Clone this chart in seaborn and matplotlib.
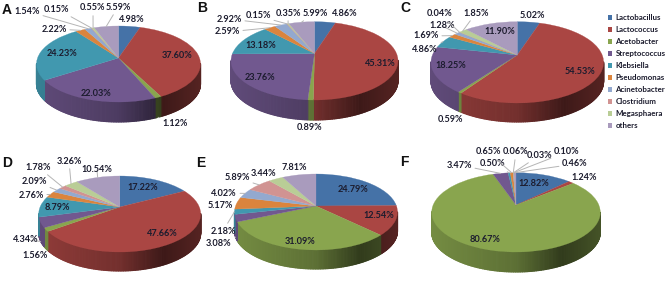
import numpy as np
import matplotlib
matplotlib.use('Agg')
import matplotlib.pyplot as plt
import seaborn as sns
from matplotlib.collections import PolyCollection
from matplotlib.patches import Patch
from matplotlib.transforms import Affine2D, Transform

genera = ['Lactobacillus', 'Lactococcus', 'Acetobacter', 'Streptococcus', 'Klebsiella',
          'Pseudomonas', 'Acinetobacter', 'Clostridium', 'Megasphaera', 'others']

panel_names = ['A', 'B', 'C', 'D', 'E', 'F']
values_a = [4.98, 37.60, 1.12, 22.03, 24.23, 2.22, 1.54, 0.15, 0.55, 5.59]
values_b = [4.86, 45.31, 0.89, 23.76, 13.18, 2.59, 2.92, 0.15, 0.35, 5.99]
values_c = [5.02, 54.53, 0.59, 18.25, 4.86, 1.69, 1.28, 0.04, 1.85, 11.90]
values_d = [17.22, 47.66, 1.56, 4.34, 8.79, 2.76, 2.09, 1.78, 3.26, 10.54]
values_e = [24.79, 12.54, 31.09, 3.08, 2.18, 5.17, 4.02, 5.89, 3.44, 7.81]
values_f = [12.82, 1.24, 80.67, 3.47, 0.50, 0.65, 0.06, 0.03, 0.10, 0.46]
all_values = [values_a, values_b, values_c, values_d, values_e, values_f]

colors = sns.color_palette(['#4572A7', '#AA4643', '#89A54E', '#71588F', '#4198AF',
                            '#DB843D', '#93A9CF', '#D19392', '#B9CD96', '#A99BBD'])

# layout in pixels: apex x, apex y, half width, top, front, wall depth
geometry = [(118.5, 58, 82, 26, 102, 20),
            (314.5, 53.5, 83.5, 21.7, 100, 20),
            (517.3, 55, 86.3, 21.7, 103, 19),
            (119.7, 207, 81, 176, 252, 19),
            (316, 206, 81.5, 174, 250, 19),
            (516, 205, 84.3, 172.7, 252, 20)]

label_pos = [
    [(132, 20), (177, 56), (175, 123), (96, 93), (62, 54), (54, 29), (27, 11), (57, 9), (93, 8), (118, 7)],
    [(345, 13), (380, 64), (310, 128), (260, 77), (261, 46), (227, 32), (229, 19), (258, 16), (288, 13), (315, 13)],
    [(532, 15), (580, 72), (450, 119), (451, 66), (425, 49), (426, 36), (442, 26), (440, 14), (476, 13), (500, 32)],
    [(143, 188), (162, 234), (35, 256), (26, 240), (57, 208), (31, 195), (34, 181), (38, 167), (69, 161), (97, 170)],
    [(353, 190), (379, 216), (300, 242), (219, 244), (223, 231), (220, 205), (224, 193), (237, 178), (264, 173), (294, 168)],
    [(534, 183), (584, 177), (485, 240), (459, 165), (493, 164), (488, 152), (516, 152), (540, 155), (567, 152), (575, 164)],
]
leaders = [[2, 5, 6, 7, 8, 9], [5, 6, 7, 8, 9], [4, 5, 6, 7, 8], [3, 5, 6, 7, 8, 9],
           [3, 4, 6, 7], [3, 4, 5, 6, 7, 8, 9]]
letter_pos = [(7, 10), (202, 8), (405, 8), (7, 163), (201, 163), (404, 162)]


class Tilt(Transform):
    input_dims = 2
    output_dims = 2

    def __init__(self, p):
        super().__init__()
        self.p = p

    def transform_non_affine(self, values):
        values = np.asarray(values, dtype=float)
        return values / (1 + self.p * values[:, 1:2])


def wall_shade(color, x):
    k = np.interp(x, [-1, 0, 0.55, 1], [0.85, 0.68, 0.36, 0.5])
    return tuple(np.array(color) * k)


sns.set_theme(style='white')
plt.rcParams['font.family'] = ['Lato', 'DejaVu Sans']

fig = plt.figure(figsize=(6.66, 3), dpi=100)
ax = fig.add_axes([0, 0, 1, 1])

for i, values in enumerate(all_values):
    cx, cy, half, top, front, depth = geometry[i]
    up, down = cy - top, front - cy
    p = (down - up) / (down + up)
    a = up * (1 + p)
    b = half * np.sqrt(1 - p ** 2)
    tilt = Tilt(p)
    to_px = Affine2D().scale(b, -a).translate(cx, cy)

    wedges, _ = ax.pie(values, colors=colors, startangle=90, counterclock=False,
                       wedgeprops=dict(transform=tilt + to_px + ax.transData,
                                       linewidth=0.2, zorder=3))
    for w in wedges:
        w.set_edgecolor(w.get_facecolor())

    quads, quad_colors = [], []
    for w, color in zip(wedges, colors):
        t = np.radians(np.linspace(w.theta1, w.theta2, max(int(w.theta2 - w.theta1), 1) + 2))
        unit = np.column_stack([np.cos(t), np.sin(t)])
        pts = to_px.transform(tilt.transform(unit))
        for j in range(len(t) - 1):
            if min(unit[j, 1], unit[j + 1, 1]) > -p:
                continue
            (x0, y0), (x1, y1) = pts[j], pts[j + 1]
            quads.append([(x0, y0), (x1, y1), (x1, y1 + depth), (x0, y0 + depth)])
            quad_colors.append(wall_shade(color, ((x0 + x1) / 2 - cx) / half))
    ax.add_collection(PolyCollection(quads, facecolors=quad_colors, edgecolors=quad_colors,
                                     linewidths=0.8, zorder=2))

    for j, (w, value) in enumerate(zip(wedges, values)):
        txt = '%.2f%%' % value
        font = dict(fontsize=6.6, fontweight='bold', color='#1c1c2e', ha='center', va='center', zorder=5)
        if j in leaders[i]:
            mid = np.radians((w.theta1 + w.theta2) / 2)
            unit = np.array([[np.cos(mid), np.sin(mid)]])
            ex, ey = to_px.transform(tilt.transform(unit))[0]
            if unit[0, 1] < -p:
                ey += depth
            ax.annotate(txt, xy=(ex, ey), xytext=label_pos[i][j],
                        arrowprops=dict(arrowstyle='-', color='#b5b5b5', lw=0.7, shrinkA=0, shrinkB=0),
                        **font)
        else:
            ax.text(label_pos[i][j][0], label_pos[i][j][1], txt, **font)

    ax.text(letter_pos[i][0], letter_pos[i][1], panel_names[i], fontsize=10, fontweight='bold',
            family='Liberation Sans', color='#111111', ha='center', va='center')

ax.set_aspect('auto')
ax.set_xlim(0, 666)
ax.set_ylim(300, 0)
ax.axis('off')

handles = [Patch(facecolor=c, edgecolor='none', label=g) for c, g in zip(colors, genera)]
ax.legend(handles=handles, loc='upper left', bbox_to_anchor=(608, 14.5), bbox_transform=ax.transData,
          frameon=False, borderpad=0, borderaxespad=0, handlelength=0.55, handleheight=0.55,
          handletextpad=0.38, labelspacing=0.63, labelcolor='#1c1c2e',
          prop=dict(family='Lato', weight='bold', size=5.7))

fig.savefig('out.png', dpi=100)
